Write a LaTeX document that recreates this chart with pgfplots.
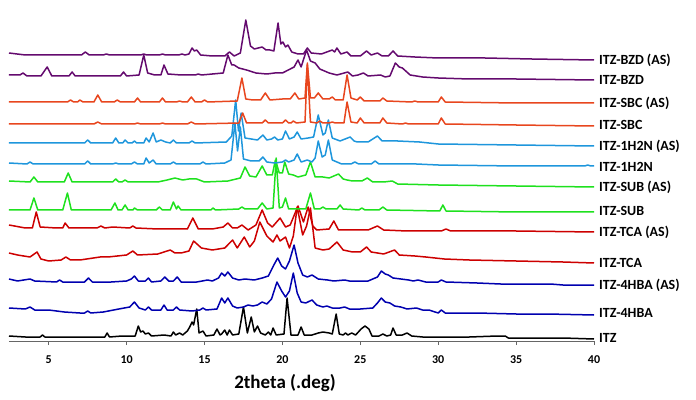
\documentclass[border=0pt]{standalone}
\usepackage{pgfplots}
\pgfplotsset{compat=1.18}
\usepackage{fontspec}
\setmainfont{Carlito}
\definecolor{cpurple}{RGB}{100,10,110}
\definecolor{corange}{RGB}{232,70,30}
\definecolor{clblue}{RGB}{30,150,220}
\definecolor{cgreen}{RGB}{30,225,30}
\definecolor{cred}{RGB}{205,0,0}
\definecolor{cdblue}{RGB}{0,0,175}
\begin{document}
\begin{tikzpicture}
\useasboundingbox (0,0) rectangle (696pt,399pt);
\begin{axis}[
  at={(9pt,58pt)}, anchor=south west,
  scale only axis, width=585pt, height=341pt,
  xmin=2.45, xmax=40, ymin=0, ymax=341,
  axis x line*=bottom, axis y line=none,
  axis line style={black!60, line width=0.8pt},
  xtick={5,10,...,40},
  tick align=outside, major tick length=4pt,
  tick style={black!60, line width=0.8pt},
  xticklabel style={font=\bfseries\fontsize{12}{12}\selectfont, yshift=-7pt},
  /pgf/number format/assume math mode=true,
  clip=false,
  every axis plot/.append style={line width=1.5pt, line join=round, mark=none},
]
% ITZ
\addplot[black] coordinates {(2.45,5)(3.5,4)(4.45,4)(4.6,6)(4.75,4)(7.5,4)(8.6,4)(8.75,8)(8.9,4)(9.7,5)(10.55,5)(10.75,15)(10.9,9)(11.05,10)(11.2,7)(11.4,8)(11.6,5)(12.4,6)(12.85,5)(13.0,9)(13.15,6)(13.4,8)(13.6,6)(13.9,10)(14.05,14)(14.2,19)(14.3,16)(14.5,32)(14.65,8)(14.9,10)(15.1,5)(15.6,6)(15.8,12)(16.0,6)(16.1,7)(16.3,11)(16.45,6)(16.6,11)(16.8,6)(17.2,7)(17.5,34)(17.75,8)(18.0,24)(18.2,9)(18.4,15)(18.6,8)(18.9,6)(19.1,9)(19.25,6)(19.4,13)(19.6,6)(20.1,7)(20.3,43)(20.55,6)(21.0,6)(21.2,14)(21.4,6)(21.9,6)(22.3,8)(22.6,9)(23.0,8)(23.2,7)(23.45,27)(23.65,7)(23.9,6)(24.05,8)(24.2,6)(24.45,8)(24.7,6)(25.05,12)(25.3,15)(25.55,12)(25.75,5)(26.2,5)(26.45,7)(26.7,5)(26.95,6)(27.1,13)(27.3,6)(27.7,6)(28.0,8)(28.3,5)(29,4)(30,4)(31,4)(32,4)(33.8,5)(34.3,5)(34.5,3)(36,3)(38,3)(40,2)};
% 4HBA
\addplot[cdblue] coordinates {(2.45,33)(3.5,32)(3.8,34)(4.1,31)(5,31)(6,29)(7,28)(7.3,28)(7.5,30)(7.7,28)(8.5,29)(9.5,32)(10.2,34)(10.5,39)(10.8,33)(11.2,31)(11.4,34)(11.6,31)(12.2,31)(12.4,36)(12.6,31)(13.0,31)(13.2,34)(13.4,31)(14.2,30)(14.7,31)(14.9,33)(15.1,31)(15.8,32)(16.1,43)(16.3,38)(16.5,43)(16.8,35)(17.1,33)(17.5,34)(17.8,36)(18.1,35)(18.4,36)(18.7,39)(19.0,37)(19.3,42)(19.65,59)(19.95,50)(20.2,44)(20.45,50)(20.7,68)(20.95,48)(21.2,39)(21.5,38)(21.9,41)(22.2,36)(22.6,34)(22.85,35)(23.2,33)(23.7,33)(24.0,34)(24.3,32)(25.0,32)(25.8,33)(26.1,38)(26.35,43)(26.6,39)(26.9,38)(27.2,35)(27.6,34)(28.0,32)(28.6,33)(29.0,31)(29.4,31)(30.0,28)(30.2,31)(30.45,28)(31,28)(32.5,28)(35,27)(37,27)(40,26)};
% 4HBA (AS)
\addplot[cdblue] coordinates {(2.45,62)(3.0,60)(3.8,62)(4.1,60)(5.5,59)(5.7,61)(5.9,59)(7.3,59)(7.55,63)(7.8,59)(9,59)(10.0,60)(10.3,62)(10.5,65)(10.75,60)(11.2,60)(11.4,63)(11.6,59)(12.2,60)(12.45,64)(12.7,60)(13.0,60)(13.25,64)(13.5,59)(14.5,59)(15.2,61)(15.5,60)(15.9,63)(16.1,68)(16.3,65)(16.5,69)(16.8,63)(17.2,61)(17.6,62)(18.2,61)(18.7,63)(19.1,65)(19.45,76)(19.7,83)(19.95,75)(20.2,72)(20.45,80)(20.75,96)(21.0,78)(21.3,66)(21.6,64)(21.9,66)(22.3,62)(22.9,61)(23.3,60)(24.0,61)(24.3,60)(25.5,60)(26.1,64)(26.35,70)(26.6,67)(26.8,66)(27.1,63)(27.6,62)(28.1,61)(28.4,60)(28.7,61)(29.2,59)(30.0,59)(30.2,61)(30.5,59)(32.5,58)(34,57)(37.2,57)(38,56)(40,56)};
% TCA
\addplot[cred] coordinates {(2.45,88)(3.0,86)(3.8,84)(4.25,89)(4.5,82)(5.0,80)(5.8,81)(6.1,84)(6.4,81)(7,81)(8.3,84)(8.8,84)(10.0,86)(10.4,90)(10.7,86)(12.0,87)(12.8,91)(13.1,88)(13.5,88)(14.0,90)(14.3,100)(14.8,93)(15.5,91)(16.3,93)(16.8,101)(17.1,93)(17.55,104)(17.9,94)(18.2,100)(18.55,119)(19.0,105)(19.4,99)(19.65,106)(19.85,100)(20.2,104)(20.45,93)(20.7,105)(20.95,134)(21.3,106)(21.55,115)(21.8,133)(22.1,93)(22.6,91)(23.0,92)(23.5,99)(23.9,91)(24.5,89)(25.0,89)(25.4,94)(25.7,89)(26.1,88)(26.5,87)(27.2,91)(27.5,86)(28.5,85)(29.2,84)(30.4,82)(32,81)(35,80)(38,79)(40,78)};
% TCA (AS)
\addplot[cred] coordinates {(2.45,116)(3.5,113)(3.95,113)(4.2,129)(4.45,114)(5.5,113)(5.9,113)(6.05,118)(6.3,113)(8.1,113)(8.35,115)(8.6,113)(9.1,114)(10.2,113)(10.4,115)(10.6,113)(12,112)(13.9,112)(14.25,123)(14.6,112)(15.5,112)(16.2,114)(16.5,118)(16.8,113)(17.1,113)(17.4,116)(17.8,111)(18.3,116)(18.7,131)(19.05,118)(19.35,114)(19.85,123)(20.2,114)(20.5,116)(21.0,135)(21.35,119)(21.65,134)(21.95,115)(22.2,111)(23.0,112)(23.3,120)(23.6,111)(24.5,111)(25.5,111)(26.1,115)(26.5,111)(28,110)(30.2,110)(30.5,112)(30.8,110)(35,110)(40,109)};
% SUB
\addplot[cgreen] coordinates {(2.45,131)(3.8,131)(4.05,143)(4.3,131)(5.9,131)(6.2,148)(6.45,131)(9.0,131)(9.25,138)(9.45,131)(9.7,131)(9.9,136)(10.1,131)(10.4,131)(10.5,133)(10.7,131)(11.9,131)(12.1,134)(12.3,131)(12.8,131)(13.0,139)(13.2,132)(13.3,135)(13.5,131)(15.4,131)(15.55,133)(15.7,131)(17.2,132)(17.4,134)(17.6,132)(18.4,132)(18.7,138)(19.0,132)(19.4,133)(19.6,183)(19.8,133)(20.0,134)(20.2,143)(20.4,132)(21.5,132)(21.8,148)(22.05,132)(22.4,132)(22.6,134)(22.8,132)(23.5,132)(23.7,136)(23.9,132)(24.9,131)(25.1,133)(25.3,131)(26.2,131)(26.45,134)(26.7,131)(30.1,130)(30.3,136)(30.5,130)(35,129)(40,129)};
% SUB (AS)
\addplot[cgreen] coordinates {(2.45,160)(3.8,159)(4.05,164)(4.3,159)(6.0,159)(6.25,168)(6.5,159)(9.1,159)(9.3,162)(9.5,159)(9.7,159)(9.9,161)(10.1,159)(12.0,159)(12.6,161)(13.1,163)(13.6,161)(14.0,162)(14.5,162)(15.0,159)(16.5,160)(17.3,163)(17.6,174)(17.9,165)(18.3,164)(18.7,175)(19.0,166)(19.35,166)(19.55,181)(19.8,168)(20.0,168)(20.15,179)(20.4,167)(20.7,166)(21.0,164)(21.5,166)(21.8,179)(22.1,164)(22.6,164)(23.0,163)(23.6,167)(23.9,162)(24.15,161)(24.5,160)(25.1,160)(25.45,163)(25.8,159)(26.5,159)(27.05,160)(27.4,157)(30,156)(35,155)(40,154)};
% 1H2N
\addplot[clblue] coordinates {(2.45,178)(3.6,177)(3.8,179)(4.0,177)(7.3,177)(7.5,180)(7.7,177)(9.1,177)(9.3,178)(9.5,177)(10.3,177)(10.5,179)(10.7,177)(11.1,177)(11.25,183)(11.45,178)(11.7,181)(11.9,177)(12.8,177)(13.0,179)(13.2,177)(14.7,177)(14.9,179)(15.1,177)(16.3,178)(16.7,181)(16.95,218)(17.12,190)(17.3,214)(17.5,182)(18.0,180)(18.5,180)(18.75,184)(19.0,179)(19.5,178)(20.0,179)(20.2,181)(20.4,179)(20.75,181)(20.95,187)(21.2,179)(21.6,181)(21.9,179)(22.1,183)(22.3,200)(22.55,184)(22.75,186)(22.95,201)(23.2,181)(23.8,177)(24.4,177)(24.65,179)(24.9,177)(25.7,177)(25.95,180)(26.2,177)(27.6,177)(28.6,177)(30,176)(35,175)(39.4,175)(39.6,176)(39.8,175)(40,175)};
% 1H2N (AS)
\addplot[clblue] coordinates {(2.45,198)(7.3,198)(7.5,201)(7.7,198)(9.1,198)(9.3,203)(9.5,198)(9.75,198)(9.9,201)(10.1,198)(10.35,198)(10.5,200)(10.65,198)(11.1,198)(11.25,203)(11.45,199)(11.7,208)(11.9,199)(12.2,201)(12.5,199)(12.8,198)(13.0,201)(13.2,198)(14.0,198)(14.2,200)(14.4,198)(16.4,199)(16.75,205)(17.0,241)(17.18,210)(17.35,228)(17.6,203)(18.0,202)(18.4,201)(18.75,206)(19.0,201)(19.3,202)(19.5,204)(19.7,201)(20.0,202)(20.2,210)(20.45,202)(20.75,204)(20.95,209)(21.2,202)(21.65,203)(22.0,204)(22.3,226)(22.6,206)(22.75,208)(22.95,221)(23.2,203)(23.7,200)(24.35,204)(24.6,200)(24.8,199)(25.5,199)(26.1,205)(26.4,200)(27.4,200)(28.8,199)(30,197)(35,196)(40,195)};
% SBC
\addplot[corange] coordinates {(2.45,217)(7.9,217)(8.15,219)(8.4,217)(10.5,217)(10.7,218)(10.9,217)(12.1,217)(12.3,218)(12.5,217)(13.9,217)(14.15,219)(14.4,217)(17.2,218)(17.45,228)(17.7,218)(18.7,218)(18.9,221)(19.1,218)(20.0,218)(20.2,221)(20.4,218)(20.55,218)(20.7,220)(20.9,218)(21.45,219)(21.6,276)(21.8,219)(22.2,218)(22.4,220)(22.6,218)(23.0,218)(23.2,219)(23.4,218)(23.95,218)(24.15,239)(24.4,219)(24.8,218)(25.0,223)(25.25,218)(26.25,218)(26.45,223)(26.7,218)(27.7,217)(27.9,218)(28.1,217)(30.0,217)(30.2,223)(30.45,217)(35,216)(40,215)};
% SBC (AS)
\addplot[corange] coordinates {(2.45,239)(6.2,239)(6.4,241)(6.6,239)(6.85,239)(7.0,241)(7.2,239)(7.9,239)(8.15,246)(8.4,239)(9.2,239)(9.4,241)(9.6,239)(10.5,239)(10.7,243)(10.9,239)(12.1,239)(12.3,243)(12.5,239)(13.2,239)(13.4,240)(13.6,239)(13.9,239)(14.15,244)(14.4,239)(14.8,239)(15.0,241)(15.2,239)(17.1,240)(17.4,263)(17.65,242)(18.1,241)(18.6,241)(18.9,248)(19.2,241)(20.0,242)(20.5,242)(20.8,248)(21.05,242)(21.45,243)(21.6,278)(21.8,243)(22.05,243)(22.3,248)(22.6,242)(23.0,242)(23.2,244)(23.4,241)(23.9,241)(24.15,266)(24.4,243)(24.8,241)(25.0,244)(25.25,240)(26.25,240)(26.45,243)(26.7,240)(28.3,239)(28.5,240)(28.7,239)(30.0,239)(30.2,244)(30.45,239)(35,238)(40,238)};
% BZD
\addplot[cpurple] coordinates {(2.45,266)(3.15,266)(3.35,268)(3.6,265)(4.5,265)(4.9,274)(5.2,265)(6.3,265)(6.5,269)(6.7,265)(9.6,265)(9.8,269)(10.0,265)(10.8,266)(11.1,286)(11.35,268)(11.8,266)(12.2,266)(12.4,276)(12.65,267)(13.5,266)(14.4,266)(14.6,267)(14.8,266)(16.2,268)(16.5,286)(16.75,276)(16.9,276)(17.2,273)(17.7,271)(18.3,268)(19.0,267)(19.5,268)(20.0,268)(20.5,272)(20.75,274)(21.0,281)(21.2,274)(21.55,291)(21.8,280)(22.1,278)(22.4,272)(22.55,271)(23.0,268)(23.5,266)(24.2,269)(24.5,265)(24.85,266)(25.2,268)(25.5,265)(26.3,266)(26.6,264)(26.9,265)(27.25,278)(27.5,274)(27.7,273)(28.2,266)(29,264)(30,263)(32,262)(35,262)(40,261)};
% BZD (AS)
\addplot[cpurple] coordinates {(2.45,288)(3.5,286)(7.1,286)(7.35,289)(7.6,286)(8.5,286)(8.7,287)(8.9,286)(10.9,286)(11.1,287)(11.3,286)(12.1,286)(12.3,287)(12.5,286)(13.35,286)(13.55,287)(13.75,286)(14.0,287)(14.2,293)(14.35,290)(14.5,291)(14.75,286)(15.5,285)(16.3,285)(16.6,289)(16.9,285)(17.3,288)(17.65,321)(17.95,295)(18.2,292)(18.7,294)(18.95,291)(19.2,291)(19.45,290)(19.72,318)(19.9,297)(20.03,299)(20.2,294)(20.35,296)(20.6,289)(21.0,287)(21.35,287)(21.6,293)(21.85,288)(22.5,287)(23.2,291)(23.35,289)(23.5,293)(23.75,287)(24.15,289)(24.4,285)(25.0,285)(25.4,290)(25.7,286)(26.1,288)(26.4,285)(26.8,285)(27.1,290)(27.4,285)(28.5,284)(30,283)(33,283)(36,282)(40,281)};
% labels
\begin{scope}[every node/.style={anchor=west, inner sep=0pt, font=\bfseries\fontsize{14}{14}\selectfont}]
\node at (axis cs:40.32,281) {ITZ-BZD (AS)};
\node at (axis cs:40.32,261) {ITZ-BZD};
\node at (axis cs:40.32,238) {ITZ-SBC (AS)};
\node at (axis cs:40.32,216) {ITZ-SBC};
\node at (axis cs:40.32,195) {ITZ-1H2N (AS)};
\node at (axis cs:40.32,174) {ITZ-1H2N};
\node at (axis cs:40.32,154) {ITZ-SUB (AS)};
\node at (axis cs:40.32,130) {ITZ-SUB};
\node at (axis cs:40.32,109) {ITZ-TCA (AS)};
\node at (axis cs:40.32,78) {ITZ-TCA};
\node at (axis cs:40.32,56) {ITZ-4HBA (AS)};
\node at (axis cs:40.32,28) {ITZ-4HBA};
\node at (axis cs:40.32,3) {ITZ};
\end{scope}
\node[inner sep=0pt, font=\bfseries\fontsize{19}{19}\selectfont] at (axis cs:20.17,-42) {2theta (.deg)};
\end{axis}
\end{tikzpicture}
\end{document}
